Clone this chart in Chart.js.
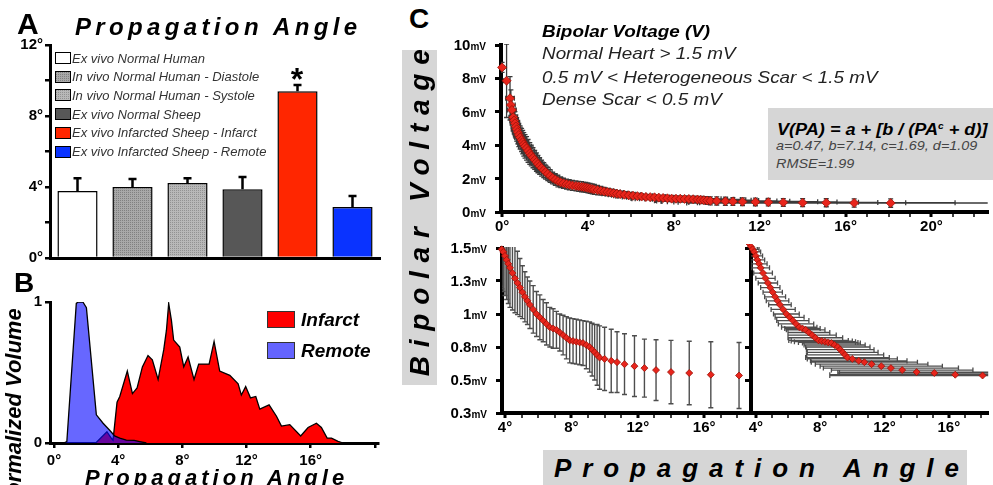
<!DOCTYPE html>
<html>
<head>
<title>Propagation Angle and Bipolar Voltage</title>
<script src="https://cdn.jsdelivr.net/npm/chart.js@4.4.0/dist/chart.umd.min.js"></script>
<style>
  body { margin: 0; background: #fff; font-family: "Liberation Sans", Arial, sans-serif; }
  #page { position: relative; width: 993px; height: 485px; overflow: hidden; }
  #page canvas, .t, .box { position: absolute; }
  .t { white-space: nowrap; color: #000; }
  .bi { font-weight: bold; font-style: italic; }
  .it { font-style: italic; }
  .box { box-sizing: border-box; }
  .gray { background: #d6d6d6; }
  .wide { transform: scaleX(1.11); transform-origin: 0 0; }
</style>
</head>
<body>
<div id="page">
  <canvas id="chartA" width="390" height="240" style="left:0;top:30px"></canvas>
  <canvas id="chartB" width="390" height="185" style="left:0;top:285px"></canvas>
  <canvas id="chartTop" width="563" height="215" style="left:430px;top:30px"></canvas>
  <canvas id="chartLow" width="330" height="205" style="left:430px;top:235px"></canvas>
  <canvas id="chartSide" width="253" height="205" style="left:740px;top:235px"></canvas>

  <!-- panel A -->
  <div class="t" style="left:17px;top:9px;font:bold 30px/30px 'Liberation Sans',Arial">A</div>
  <div class="t bi spread" data-w="283" style="left:75px;top:15px;font-size:24px;line-height:24px">Propagation Angle</div>
  <div id="legendA"></div>
  <div class="t" style="left:282px;top:63px;width:30px;text-align:center;font:bold 32px/32px 'Liberation Sans',Arial">*</div>

  <!-- panel B -->
  <div class="t" style="left:14px;top:269px;font:bold 28px/28px 'Liberation Sans',Arial">B</div>
  <div class="box" style="left:267px;top:311px;width:28px;height:17px;border:1px solid #333;background:#ff0000"></div>
  <div class="t bi" style="left:301px;top:310px;font-size:19px;line-height:19px">Infarct</div>
  <div class="box" style="left:267px;top:342px;width:28px;height:17px;border:1px solid #333;background:#6464ff"></div>
  <div class="t bi" style="left:301px;top:341px;font-size:19px;line-height:19px">Remote</div>
  <div class="t bi spread" data-w="260" style="left:85px;top:467px;font-size:22px;line-height:22px">Propagation Angle</div>
  <div class="t bi" style="left:-96px;top:399px;width:220px;height:22px;text-align:center;font-size:22px;line-height:22px;transform:rotate(-90deg)">Normalized Volume</div>

  <!-- panel C -->
  <div class="t" style="left:409px;top:5px;font:bold 28px/28px 'Liberation Sans',Arial">C</div>
  <div class="t bi wide" style="left:542px;top:22.5px;font-size:17px;line-height:17px">Bipolar Voltage (V)</div>
  <div class="t it wide" style="left:542px;top:45px;font-size:17px;line-height:17px;color:#222">Normal Heart &gt; 1.5 mV</div>
  <div class="t it wide" style="left:542px;top:69px;font-size:17px;line-height:17px;color:#222">0.5 mV &lt; Heterogeneous Scar &lt; 1.5 mV</div>
  <div class="t it wide" style="left:542px;top:90.6px;font-size:17px;line-height:17px;color:#222">Dense Scar &lt; 0.5 mV</div>
  <div class="box gray" style="left:768px;top:108px;width:225px;height:72px"></div>
  <div class="t bi" style="left:777px;top:118px;font-size:16px;line-height:16px;transform:scaleX(1.13);transform-origin:0 0">V(PA) = a + [b / (PA<span style="font-size:9px;vertical-align:6px">c</span> + d)]</div>
  <div class="t it wide" style="left:776px;top:139px;font-size:13px;line-height:13px;color:#444">a=0.47, b=7.14, c=1.69, d=1.09</div>
  <div class="t it wide" style="left:776px;top:157px;font-size:13px;line-height:13px;color:#444">RMSE=1.99</div>
  <div class="t bi box gray spread center" data-w="327" style="left:252px;top:200px;width:335px;height:35px;text-align:center;font-size:28px;line-height:35px;transform:rotate(-90deg)">Bipolar Voltage</div>
  <div class="t bi box gray spread center" data-w="406" style="left:543px;top:450px;width:424px;height:40px;text-align:center;font-size:26px;line-height:36px">Propagation Angle</div>
</div>

<script>
// ---------- panel A: mean propagation angle per group ----------
const groupNames = ['Ex vivo Normal Human', 'In vivo Normal Human - Diastole', 'In vivo Normal Human - Systole',
                    'Ex vivo Normal Sheep', 'Ex vivo Infarcted Sheep - Infarct', 'Ex vivo Infarcted Sheep - Remote'];
const meanAngle = [3.77, 4.00, 4.22, 3.88, 9.40, 2.87];
const errAngle  = [0.73, 0.45, 0.27, 0.68, 0.35, 0.62];
const angleTicks = [0, 4, 8, 12];

// ---------- panel B: normalized volume histograms ----------
const infarctPA  = [2.6, 3.3, 3.6, 3.68, 3.93, 4.10, 4.57, 4.89, 5.18, 5.51, 5.86, 6.13, 6.49, 6.84, 7.01, 7.15, 7.32, 7.46,
                    7.84, 8.09, 8.36, 8.73, 9.02, 9.67, 9.98, 10.33, 10.96, 11.48, 11.68, 11.95, 12.25, 12.58, 12.83, 13.41,
                    13.87, 14.18, 14.70, 15.38, 15.84, 16.36, 16.67, 17.03, 17.30, 17.71, 18.02];
const infarctVol = [0, 0.08, 0.03, 0.02, 0.29, 0.33, 0.51, 0.35, 0.39, 0.54, 0.62, 0.59, 0.45, 0.66, 0.80, 0.99, 0.87, 0.73,
                    0.68, 0.54, 0.61, 0.45, 0.56, 0.56, 0.72, 0.51, 0.48, 0.42, 0.34, 0.40, 0.32, 0.33, 0.24, 0.27,
                    0.19, 0.12, 0.13, 0.05, 0.11, 0.14, 0.11, 0.035, 0.035, 0.012, 0];
const remotePA   = [0.6, 0.8, 1.39, 1.5, 1.8, 2.02, 2.64, 3.06, 3.47, 3.78, 4.10, 4.51, 5.00, 5.34, 5.76];
const remoteVol  = [0, 0.01, 0.99, 1.0, 1.0, 0.96, 0.20, 0.14, 0.09, 0.05, 0.035, 0.02, 0.018, 0.01, 0];

// ---------- panel C: bipolar voltage vs propagation angle ----------
const voltPA = [0.00, 0.21, 0.37, 0.41, 0.46, 0.52, 0.56, 0.60, 0.64, 0.68, 0.73, 0.78, 0.84, 0.91, 0.96, 1.01, 1.07, 1.14,
                1.21, 1.29, 1.36, 1.44, 1.52, 1.60, 1.67, 1.75, 1.84, 1.94, 2.03, 2.13, 2.24, 2.36, 2.48, 2.60, 2.73, 2.86,
                3.00, 3.13, 3.28, 3.44, 3.57, 3.70, 3.80,
                3.90, 4.00, 4.10, 4.20, 4.30, 4.45, 4.60, 4.75, 4.90, 5.05, 5.20, 5.35, 5.50, 5.70, 5.90, 6.10, 6.30, 6.50,
                6.70, 6.90, 7.10, 7.30, 7.50, 7.70, 7.90, 8.10, 8.30, 8.50, 8.70, 8.90, 9.10, 9.25, 9.40, 9.55, 9.70,
                10.00, 10.40, 10.75, 11.20, 11.80, 12.40, 13.10, 14.00, 15.10, 16.40, 18.10];
const voltMV = [8.66, 7.86, 6.81, 6.41, 6.11, 5.67, 5.48, 5.31, 5.12, 4.95, 4.78, 4.61, 4.46, 4.31, 4.18, 4.05, 3.93, 3.81,
                3.66, 3.51, 3.38, 3.25, 3.12, 2.99, 2.87, 2.75, 2.63, 2.51, 2.39, 2.28, 2.16, 2.04, 1.94, 1.85, 1.78, 1.72,
                1.67, 1.63, 1.59, 1.56, 1.535, 1.51, 1.49,
                1.47, 1.44, 1.41, 1.38, 1.35, 1.31, 1.27, 1.235, 1.20, 1.165, 1.13, 1.10, 1.07, 1.035, 1.00, 0.975, 0.95, 0.925,
                0.90, 0.89, 0.88, 0.86, 0.84, 0.82, 0.80, 0.795, 0.79, 0.785, 0.78, 0.765, 0.75, 0.73, 0.71, 0.69, 0.67,
                0.66, 0.645, 0.635, 0.62, 0.605, 0.59, 0.575, 0.56, 0.553, 0.54, 0.534];
const voltErrMV = [0.3, 2.2, 1.3, 0.9, 0.8, 0.7, 0.7, 0.7, 0.7, 0.7, 0.7, 0.7, 0.7, 0.7, 0.7, 0.7, 0.7, 0.7,
                   0.68, 0.65, 0.62, 0.6, 0.57, 0.55, 0.52, 0.5, 0.48, 0.45, 0.42, 0.4, 0.38, 0.35, 0.35, 0.35, 0.32, 0.3,
                   0.3, 0.3, 0.3, 0.3, 0.3, 0.3, 0.3,
                   0.30, 0.30, 0.30, 0.30, 0.30, 0.28, 0.26, 0.24, 0.22, 0.20, 0.19, 0.18, 0.18, 0.18, 0.17, 0.17, 0.16, 0.16,
                   0.15, 0.15, 0.14, 0.14, 0.15, 0.16, 0.17, 0.17, 0.17, 0.17, 0.17, 0.18, 0.19, 0.20, 0.21, 0.23, 0.24,
                   0.24, 0.24, 0.23, 0.23, 0.23, 0.22, 0.23, 0.24, 0.24, 0.25, 0.25];
const voltErrPA = [0.1, 0.15, 0.2, 0.2, 0.2, 0.2, 0.2, 0.22, 0.22, 0.25, 0.25, 0.25, 0.25, 0.25, 0.28, 0.28, 0.3, 0.3,
                   0.3, 0.3, 0.3, 0.3, 0.3, 0.3, 0.3, 0.3, 0.3, 0.3, 0.3, 0.3, 0.32, 0.32, 0.35, 0.35, 0.35, 0.35,
                   0.35, 0.35, 0.35, 0.36, 0.38, 0.4, 0.4,
                   0.40, 0.42, 0.45, 0.50, 0.55, 0.58, 0.60, 0.60, 0.60, 0.60, 0.65, 0.70, 0.70, 0.75, 0.80, 0.90, 1.00, 1.10,
                   1.10, 1.10, 1.20, 1.30, 1.50, 1.70, 1.85, 1.90, 1.90, 1.85, 1.80, 1.90, 2.00, 2.10, 2.20, 2.40, 2.60,
                   2.80, 3.00, 3.30, 3.50, 3.80, 4.20, 4.40, 4.80, 6.00, 7.80, 9.50];
const topMvTicks  = [0, 2, 4, 6, 8, 10];
const topMvLabels = ['0', '2', '4', '6', '8', '10'];
const lowMvTicks  = [0.25, 0.5, 0.75, 1, 1.25, 1.5];
const lowMvLabels = ['0.3', '0.5', '0.8', '1', '1.3', '1.5'];
const degTicks = [0, 4, 8, 12, 16, 20];

const pageFont = '"Liberation Sans", Arial, sans-serif';
Chart.defaults.font.family = pageFont;
Chart.defaults.color = '#000';
Chart.defaults.animation = false;
Chart.defaults.plugins.legend.display = false;
Chart.defaults.plugins.tooltip.enabled = false;
const tickFont = { size: 15, weight: 'bold' };

// fixed axis box so the plot areas land where the figure has them
const fixSize = size => s => {
  if (s.isHorizontal()) s.height = size; else s.width = size;
  s.paddingLeft = s.paddingRight = s.paddingTop = s.paddingBottom = 0;
};
function axisLines(borderWidth, tickLength, tickWidth) {
  return {
    border: { display: true, color: '#000', width: borderWidth },
    grid: { display: true, drawOnChartArea: false, drawTicks: tickLength > 0, tickLength: tickLength,
            color: '#000', lineWidth: tickWidth }
  };
}

// letter spacing so that spaced titles span their width in the figure
document.querySelectorAll('.spread').forEach(el => {
  const cs = getComputedStyle(el);
  const g = document.createElement('canvas').getContext('2d');
  g.font = `${cs.fontStyle} ${cs.fontWeight} ${cs.fontSize} ${cs.fontFamily}`;
  const txt = el.textContent;
  const ls = (+el.dataset.w - g.measureText(txt).width) / (txt.length - 1);
  el.style.letterSpacing = ls + 'px';
  if (el.classList.contains('center')) el.style.paddingLeft = ls + 'px';
});

// dotted fills for the two in vivo bars
function dotTile(bg, dot) {
  const c = document.createElement('canvas');
  c.width = c.height = 2;
  const g = c.getContext('2d');
  g.fillStyle = bg; g.fillRect(0, 0, 2, 2);
  g.fillStyle = dot; g.fillRect(0, 0, 1, 1);
  return c;
}
const ctxA = document.getElementById('chartA').getContext('2d');
const tiles = [null, dotTile('#a8a8a8', '#808080'), dotTile('#b8b8b8', '#929292'), null, null, null];
const plainFills = ['#ffffff', '#a0a0a0', '#b0b0b0', '#575757', '#ff2600', '#0a33ff'];
const barFills = plainFills.map((c, i) => tiles[i] ? ctxA.createPattern(tiles[i], 'repeat') : c);

// legend of panel A
const legendA = document.getElementById('legendA');
groupNames.forEach((name, i) => {
  const top = 52 + i * 18.7;
  const box = document.createElement('div');
  box.className = 'box';
  box.style.cssText = `left:55px;top:${top}px;width:16px;height:12px;border:1px solid #000;background:${plainFills[i]}`;
  if (tiles[i]) box.style.backgroundImage = `url(${tiles[i].toDataURL()})`;
  const txt = document.createElement('div');
  txt.className = 't it';
  txt.style.cssText = `left:72px;top:${top - 2.5}px;font-size:13px;line-height:17px;color:#333`;
  txt.textContent = name;
  legendA.appendChild(box);
  legendA.appendChild(txt);
});

const barErrors = {
  id: 'barErrors',
  afterDatasetsDraw(chart) {
    const ctx = chart.ctx, y = chart.scales.y, bars = chart.getDatasetMeta(0).data;
    ctx.save();
    ctx.strokeStyle = '#000';
    ctx.lineWidth = 2.5;
    bars.forEach((b, i) => {
      const top = y.getPixelForValue(meanAngle[i] + errAngle[i]);
      ctx.beginPath();
      ctx.moveTo(b.x, y.getPixelForValue(meanAngle[i]));
      ctx.lineTo(b.x, top);
      ctx.moveTo(b.x - 4, top); ctx.lineTo(b.x + 4, top);
      ctx.stroke();
    });
    ctx.restore();
  }
};

function errorBars(opts) {
  return {
    id: 'errorBars',
    beforeDatasetsDraw(chart) {
      const { ctx, chartArea: a, scales: { x, y } } = chart;
      const c = opts.cap;
      ctx.save();
      ctx.beginPath();
      ctx.rect(a.left, a.top - 1, a.right - a.left, a.bottom - a.top + 1);
      ctx.clip();
      ctx.strokeStyle = opts.color;
      ctx.lineWidth = opts.width;
      ctx.beginPath();
      voltPA.forEach((pa, i) => {
        const px = x.getPixelForValue(pa), py = y.getPixelForValue(voltMV[i]);
        if (opts.vertical) {
          const t = y.getPixelForValue(voltMV[i] + voltErrMV[i]), b = y.getPixelForValue(voltMV[i] - voltErrMV[i]);
          ctx.moveTo(px, t); ctx.lineTo(px, b);
          ctx.moveTo(px - c, t); ctx.lineTo(px + c, t);
          ctx.moveTo(px - c, b); ctx.lineTo(px + c, b);
        }
        if (opts.horizontal) {
          const l = x.getPixelForValue(pa - voltErrPA[i]), r = x.getPixelForValue(pa + voltErrPA[i]);
          ctx.moveTo(l, py); ctx.lineTo(r, py);
          ctx.moveTo(l, py - c); ctx.lineTo(l, py + c);
          ctx.moveTo(r, py - c); ctx.lineTo(r, py + c);
        }
      });
      ctx.stroke();
      ctx.restore();
    }
  };
}

// "10mV" style labels: big number, small unit
function mvLabels(values, labels) {
  return {
    id: 'mvLabels',
    afterDraw(chart) {
      const ctx = chart.ctx, y = chart.scales.y, right = y.right - 15;
      ctx.save();
      ctx.fillStyle = '#000';
      ctx.textAlign = 'right';
      values.forEach((v, i) => {
        const py = y.getPixelForValue(v) + 5;
        ctx.font = 'bold 10px ' + pageFont;
        const uw = ctx.measureText('mV').width;
        ctx.fillText('mV', right, py);
        ctx.font = 'bold 15px ' + pageFont;
        ctx.fillText(labels[i], right - uw, py);
      });
      ctx.restore();
    }
  };
}

function degAxis(min, max, height) {
  const a = axisLines(4, 5, 2);
  a.grid.tickWidth = c => (c.tick && degTicks.includes(c.tick.value)) ? 3 : 1.5;
  return Object.assign(a, {
    type: 'linear', min: min, max: max,
    ticks: { stepSize: 1, includeBounds: false, autoSkip: false, maxRotation: 0, font: tickFont, padding: 1,
             callback: v => degTicks.includes(v) ? v + '°' : '' },
    afterFit: fixSize(height)
  });
}
function voltAxis(min, max, step, width) {
  return Object.assign(axisLines(4, 6, 3), {
    min: min, max: max,
    ticks: { stepSize: step, includeBounds: false, callback: () => '' },
    afterFit: fixSize(width)
  });
}
function voltPoints(radius) {
  return {
    data: voltPA.map((x, i) => ({ x: x, y: voltMV[i] })),
    pointStyle: 'rectRot', pointRadius: radius,
    backgroundColor: '#e8251c', borderColor: '#9b1208', borderWidth: 0.8,
    clip: { left: 6, top: 4, right: 0, bottom: 4 }
  };
}

try {
  new Chart(ctxA, {
    type: 'bar',
    data: { labels: groupNames, datasets: [{
      data: meanAngle, backgroundColor: barFills, borderColor: '#000', borderWidth: 1.5,
      barPercentage: 0.73, categoryPercentage: 1.0
    }] },
    options: {
      responsive: false,
      layout: { padding: { left: 0, top: 15, right: 10, bottom: 12 } },
      scales: {
        x: Object.assign(axisLines(3, 0, 1), { ticks: { display: false }, afterFit: fixSize(0) }),
        y: Object.assign(axisLines(3, 5, 2.5), {
          min: 0, max: 12,
          ticks: { stepSize: 2, font: tickFont, padding: 2, callback: v => angleTicks.includes(v) ? v + '°' : '' },
          afterFit: fixSize(50)
        })
      }
    },
    plugins: [barErrors]
  });

  new Chart(document.getElementById('chartB'), {
    type: 'line',
    data: { datasets: [
      { data: remotePA.map((x, i) => ({ x: x, y: remoteVol[i] })), fill: 'origin',
        backgroundColor: 'rgba(10,10,255,0.62)', borderColor: '#000', borderWidth: 1.3,
        pointRadius: 0, tension: 0, order: 0 },
      { data: infarctPA.map((x, i) => ({ x: x, y: infarctVol[i] })), fill: 'origin',
        backgroundColor: '#ff0000', borderColor: '#000', borderWidth: 1.3,
        pointRadius: 0, tension: 0, order: 1 }
    ] },
    options: {
      responsive: false,
      layout: { padding: { left: 0, top: 17, right: 12, bottom: 0 } },
      scales: {
        x: Object.assign(axisLines(3, 5, 2.5), {
          type: 'linear', min: -0.25, max: 20.2,
          ticks: { stepSize: 4, includeBounds: false, autoSkip: false, maxRotation: 0, font: tickFont, padding: 4,
                   callback: v => v <= 16 ? v + '°' : '' },
          afterFit: fixSize(27)
        }),
        y: Object.assign(axisLines(3, 5, 2.5), {
          min: 0, max: 1,
          ticks: { stepSize: 1, font: tickFont, padding: 3 },
          afterFit: fixSize(50)
        })
      }
    }
  });

  new Chart(document.getElementById('chartTop'), {
    type: 'scatter',
    data: { datasets: [voltPoints(4.5)] },
    options: {
      responsive: false,
      layout: { padding: { left: 0, top: 15, right: 0, bottom: 0 } },
      scales: { x: degAxis(-0.05, 22.62, 33), y: voltAxis(0, 10, 2, 71) }
    },
    plugins: [errorBars({ vertical: true, horizontal: true, color: '#3a3a3a', width: 1.3, cap: 2.5 }),
              mvLabels(topMvTicks, topMvLabels)]
  });

  new Chart(document.getElementById('chartLow'), {
    type: 'scatter',
    data: { datasets: [voltPoints(3.5)] },
    options: {
      responsive: false,
      layout: { padding: { left: 0, top: 13, right: 10, bottom: 0 } },
      scales: { x: degAxis(3.82, 18.76, 27), y: voltAxis(0.25, 1.5, 0.25, 72) }
    },
    plugins: [errorBars({ vertical: true, color: '#4d4d4d', width: 1.4, cap: 2.5 }),
              mvLabels(lowMvTicks, lowMvLabels)]
  });

  new Chart(document.getElementById('chartSide'), {
    type: 'scatter',
    data: { datasets: [voltPoints(3.5)] },
    options: {
      responsive: false,
      layout: { padding: { left: 0, top: 13, right: 0, bottom: 0 } },
      scales: { x: degAxis(3.7, 18.45, 27), y: voltAxis(0.25, 1.5, 0.25, 11) }
    },
    plugins: [errorBars({ horizontal: true, color: '#4d4d4d', width: 1.3, cap: 2.5 })]
  });
} catch (error) {
  console.error('Error rendering charts:', error);
}
</script>
</body>
</html>
